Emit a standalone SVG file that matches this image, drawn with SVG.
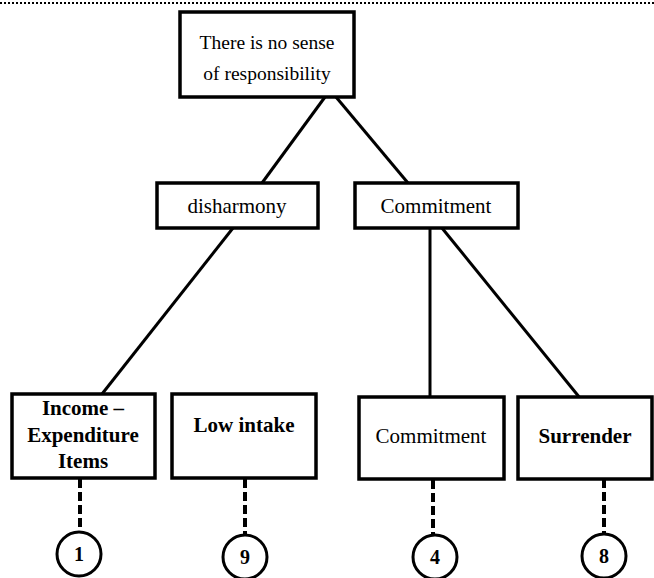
<svg xmlns="http://www.w3.org/2000/svg" width="654" height="578" viewBox="0 0 654 578">
<style>
.box{fill:#fff;stroke:#000;stroke-width:3.5}
.t{font-family:"Liberation Serif","Times New Roman",serif;font-size:21px;fill:#000;text-anchor:middle}
.b{font-weight:bold}
.ln{stroke:#000;stroke-width:3;fill:none}
.dash{stroke:#000;stroke-width:4;stroke-dasharray:9,4;fill:none}
.c{fill:#fff;stroke:#000;stroke-width:3}
.n{font-family:"Liberation Serif","Times New Roman",serif;font-size:20px;font-weight:bold;fill:#000;text-anchor:middle}
</style>
<rect width="654" height="578" fill="#fff"/>
<line x1="0" y1="3" x2="654" y2="3" stroke="#000" stroke-width="2" stroke-dasharray="2,2"/>
<g id="connectors">
<line class="ln" x1="325" y1="97" x2="262" y2="183"/>
<line class="ln" x1="336" y1="97" x2="408" y2="183"/>
<line class="ln" x1="233" y1="228" x2="102" y2="394"/>
<line class="ln" x1="430" y1="228" x2="430" y2="398"/>
<line class="ln" x1="442" y1="228" x2="580" y2="398"/>
<line class="dash" x1="80" y1="479" x2="80" y2="532"/>
<line class="dash" x1="245" y1="479" x2="245" y2="535"/>
<line class="dash" x1="433" y1="480" x2="433" y2="535"/>
<line class="dash" x1="604" y1="479" x2="604" y2="534"/>
</g>
<g id="root">
<rect class="box" x="180" y="12" width="174" height="85"/>
<text class="t" x="267" y="49" style="font-size:19.5px">There is no sense</text>
<text class="t" x="267" y="80" style="font-size:19.5px">of responsibility</text>
</g>
<g id="disharmony">
<rect class="box" x="157" y="183" width="161" height="45"/>
<text class="t" x="237" y="213">disharmony</text>
</g>
<g id="commitment-mid">
<rect class="box" x="355" y="183" width="163" height="45"/>
<text class="t" x="436" y="213">Commitment</text>
</g>
<g id="income">
<rect class="box" x="12" y="394" width="143" height="84"/>
<text class="t b" x="83" y="415">Income –</text>
<text class="t b" x="83" y="442">Expenditure</text>
<text class="t b" x="83" y="468">Items</text>
</g>
<g id="low-intake">
<rect class="box" x="172" y="394" width="144" height="84"/>
<text class="t b" x="244" y="432">Low intake</text>
</g>
<g id="commitment-low">
<rect class="box" x="359" y="397" width="145" height="82"/>
<text class="t" x="431" y="443">Commitment</text>
</g>
<g id="surrender">
<rect class="box" x="518" y="397" width="134" height="82"/>
<text class="t b" x="585" y="443">Surrender</text>
</g>
<g id="c1"><circle class="c" cx="79" cy="554" r="22"/><text class="n" x="79" y="561">1</text></g>
<g id="c9"><circle class="c" cx="245" cy="557" r="22"/><text class="n" x="245" y="564">9</text></g>
<g id="c4"><circle class="c" cx="435" cy="557" r="22"/><text class="n" x="435" y="564">4</text></g>
<g id="c8"><circle class="c" cx="604" cy="556" r="22"/><text class="n" x="604" y="563">8</text></g>
</svg>
